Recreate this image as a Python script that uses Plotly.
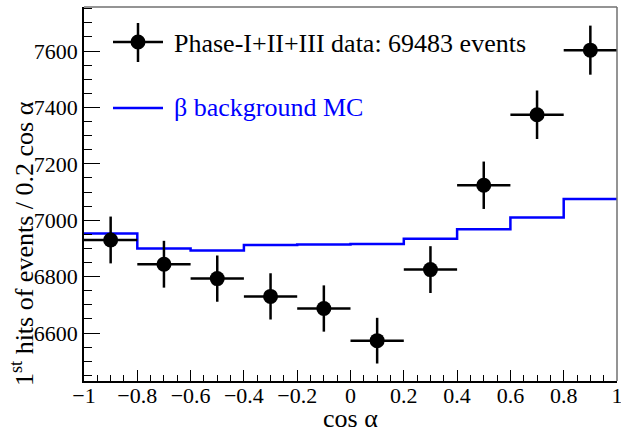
import plotly.graph_objects as go

# ---- data ----
bin_centers = [-0.9, -0.7, -0.5, -0.3, -0.1, 0.1, 0.3, 0.5, 0.7, 0.9]
data_counts = [6930, 6844, 6793, 6730, 6687, 6573, 6825, 7124, 7374, 7603]
data_errors = [83, 83, 82, 82, 82, 81, 83, 84, 86, 87]
bin_half_width = 0.1

mc_edges = [-1.0, -0.8, -0.6, -0.4, -0.2, 0.0, 0.2, 0.4, 0.6, 0.8, 1.0]
mc_counts = [6953, 6900, 6893, 6912, 6914, 6916, 6934, 6968, 7010, 7075]

x_tickvals = [-1, -0.8, -0.6, -0.4, -0.2, 0, 0.2, 0.4, 0.6, 0.8, 1]
x_ticktext = ["\u22121", "\u22120.8", "\u22120.6", "\u22120.4", "\u22120.2", "0",
              "0.2", "0.4", "0.6", "0.8", "1"]
y_tickvals = [6600, 6800, 7000, 7200, 7400, 7600]
y_ticktext = ["6600", "6800", "7000", "7200", "7400", "7600"]

legend_data_label = "Phase-I+II+III data: 69483 events"
legend_mc_label = "\u03b2 background MC"

# ---- layout geometry (pixels) ----
W, H = 621, 432
L, R, T, B = 84, 4, 7, 51
PW, PH = W - L - R, H - T - B
FONT = "Liberation Serif"


def px(x):
    return (x - L) / PW


def py(y):
    return (H - B - y) / PH


fig = go.Figure()

# MC step histogram
fig.add_trace(go.Scatter(
    x=mc_edges, y=mc_counts + [mc_counts[-1]],
    mode="lines", line=dict(color="#0000ff", width=2.5, shape="hv"),
    hoverinfo="skip", showlegend=False))

# data points
fig.add_trace(go.Scatter(
    x=bin_centers, y=data_counts, mode="markers",
    marker=dict(color="black", size=15),
    error_y=dict(type="data", array=data_errors, width=0, thickness=2.5, color="black"),
    error_x=dict(type="constant", value=bin_half_width, width=0, thickness=2.5, color="black"),
    showlegend=False))

# frame (top/right in grey) + manual legend glyphs
shapes = [
    dict(type="line", xref="paper", yref="paper", x0=0, x1=1, y0=1, y1=1,
         line=dict(color="#707070", width=1.5)),
    dict(type="line", xref="paper", yref="paper", x0=1, x1=1, y0=0, y1=1,
         line=dict(color="#707070", width=1.5)),
    dict(type="line", xref="paper", yref="paper", x0=px(113), x1=px(163), y0=py(42), y1=py(42),
         line=dict(color="black", width=2.5)),
    dict(type="line", xref="paper", yref="paper", x0=px(138), x1=px(138), y0=py(23), y1=py(62),
         line=dict(color="black", width=2.5)),
    dict(type="circle", xref="paper", yref="paper", x0=px(130.5), x1=px(145.5), y0=py(34.5), y1=py(49.5),
         fillcolor="black", line=dict(color="black", width=0)),
    dict(type="line", xref="paper", yref="paper", x0=px(113), x1=px(163), y0=py(108), y1=py(108),
         line=dict(color="#0000ff", width=2.5)),
]

annotations = [
    dict(text=legend_data_label, xref="paper", yref="paper", x=px(172), y=py(43),
         xanchor="left", yanchor="middle", showarrow=False,
         font=dict(family=FONT, size=26, color="black")),
    dict(text=legend_mc_label, xref="paper", yref="paper", x=px(172), y=py(108),
         xanchor="left", yanchor="middle", showarrow=False,
         font=dict(family=FONT, size=26, color="#0000ff")),
    dict(text="1<sup>st</sup> hits of events / 0.2 cos \u03b1", xref="paper", yref="paper",
         x=px(22), y=py(244), xanchor="center", yanchor="middle", textangle=-90,
         showarrow=False, font=dict(family=FONT, size=26, color="black")),
    dict(text="cos \u03b1", xref="paper", yref="paper", x=px(350), y=py(418),
         xanchor="center", yanchor="middle", showarrow=False,
         font=dict(family=FONT, size=26, color="black")),
]

fig.update_layout(
    width=W, height=H,
    margin=dict(l=L, r=R, t=T, b=B),
    paper_bgcolor="white", plot_bgcolor="white",
    font=dict(family=FONT, size=22, color="black"),
    shapes=shapes, annotations=annotations,
    showlegend=False,
)

fig.update_xaxes(
    range=[-1, 1], tickvals=x_tickvals, ticktext=x_ticktext,
    ticks="inside", ticklen=11, tickwidth=1.2, tickcolor="black",
    minor=dict(dtick=0.05, tick0=-1, ticks="inside", ticklen=6, tickwidth=1.2, tickcolor="black"),
    showline=True, linecolor="black", linewidth=1.5, mirror=False, automargin=False,
    showgrid=False, zeroline=False, ticklabelstandoff=-6, ticklabeloverflow="allow",
    tickfont=dict(family=FONT, size=22, color="black"),
)
fig.update_yaxes(
    range=[6430, 7756], tickvals=y_tickvals, ticktext=y_ticktext,
    ticks="inside", ticklen=16, tickwidth=1.2, tickcolor="black",
    minor=dict(dtick=50, tick0=6400, ticks="inside", ticklen=8, tickwidth=1.2, tickcolor="black"),
    showline=True, linecolor="black", linewidth=1.5, mirror=False, automargin=False,
    showgrid=False, zeroline=False, ticklabeloverflow="allow",
    tickfont=dict(family=FONT, size=22, color="black"),
)

fig.write_html("out.html", config={"displayModeBar": False},
               post_script="document.body.style.margin='0';")
